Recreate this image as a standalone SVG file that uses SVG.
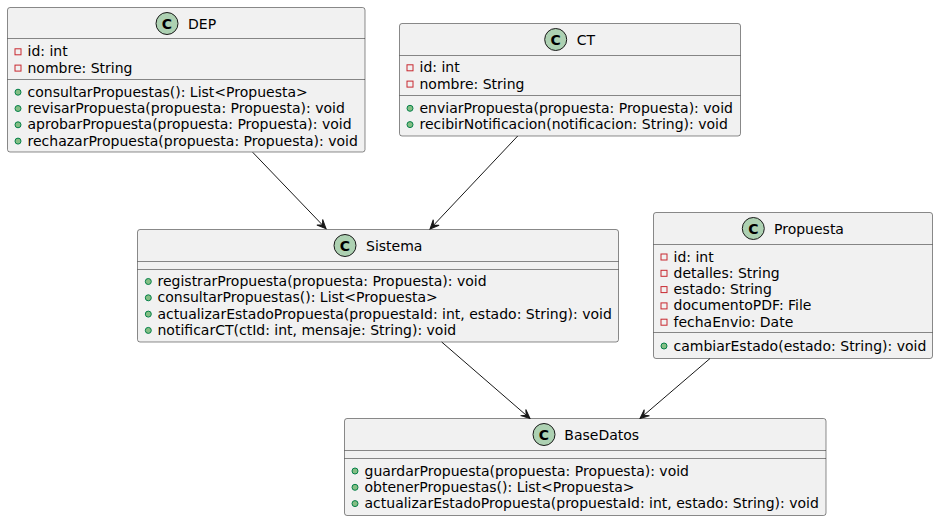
<svg xmlns="http://www.w3.org/2000/svg" width="938" height="521" viewBox="0 0 938 521">
<style>
.box{fill:#F1F1F1;stroke:#181818;stroke-width:0.5}
.sep{stroke:#181818;stroke-width:0.5}
.ci{fill:#ADD1B2;stroke:#181818;stroke-width:1}
.cl{font-family:"DejaVu Sans",sans-serif;font-size:14px;font-weight:bold;fill:#000;text-anchor:middle}
.t{font-family:"DejaVu Sans",sans-serif;font-size:14px;fill:#000}
.pv{fill:none;stroke:#C82930;stroke-width:1}
.pb{fill:#84BE84;stroke:#038048;stroke-width:1}
.edge{stroke:#181818;stroke-width:1;fill:none}
</style>
<defs>
<marker id="arr" viewBox="-10 -5 11 10" refX="0" refY="0" markerWidth="11" markerHeight="10" markerUnits="userSpaceOnUse" orient="auto">
<path d="M0,0 L-9,-4 L-5,0 L-9,4 Z" fill="#181818" stroke="#181818" stroke-width="1"/>
</marker>
</defs>

<g id="DEP">
<rect class="box" x="7.5" y="7.5" width="357.5" height="144.5" rx="2.5"/>
<circle class="ci" cx="167" cy="23.5" r="11"/>
<text class="cl" x="167" y="28.5">C</text>
<text class="t" x="188" y="28.5">DEP</text>
<line class="sep" x1="7.5" y1="38.5" x2="365" y2="38.5"/>
<rect class="pv" x="15" y="48.8" width="6" height="6"/>
<text class="t" x="27.5" y="56.3">id: int</text>
<rect class="pv" x="15" y="65.1" width="6" height="6"/>
<text class="t" x="27.5" y="72.6">nombre: String</text>
<line class="sep" x1="7.5" y1="79.5" x2="365" y2="79.5"/>
<circle class="pb" cx="18" cy="92.2" r="3"/>
<text class="t" x="27.5" y="96.7">consultarPropuestas(): List&lt;Propuesta&gt;</text>
<circle class="pb" cx="18" cy="108.5" r="3"/>
<text class="t" x="27.5" y="113">revisarPropuesta(propuesta: Propuesta): void</text>
<circle class="pb" cx="18" cy="124.8" r="3"/>
<text class="t" x="27.5" y="129.3">aprobarPropuesta(propuesta: Propuesta): void</text>
<circle class="pb" cx="18" cy="141.1" r="3"/>
<text class="t" x="27.5" y="145.6">rechazarPropuesta(propuesta: Propuesta): void</text>
</g>

<g id="CT">
<rect class="box" x="399.5" y="23.5" width="341" height="112.5" rx="2.5"/>
<circle class="ci" cx="555.7" cy="39.5" r="11"/>
<text class="cl" x="555.7" y="44.5">C</text>
<text class="t" x="576.7" y="44.5">CT</text>
<line class="sep" x1="399.5" y1="55.5" x2="740.5" y2="55.5"/>
<rect class="pv" x="407" y="64.8" width="6" height="6"/>
<text class="t" x="419.5" y="72.3">id: int</text>
<rect class="pv" x="407" y="81.1" width="6" height="6"/>
<text class="t" x="419.5" y="88.6">nombre: String</text>
<line class="sep" x1="399.5" y1="95.5" x2="740.5" y2="95.5"/>
<circle class="pb" cx="410" cy="108.3" r="3"/>
<text class="t" x="419.5" y="112.8">enviarPropuesta(propuesta: Propuesta): void</text>
<circle class="pb" cx="410" cy="124.6" r="3"/>
<text class="t" x="419.5" y="129.1">recibirNotificacion(notificacion: String): void</text>
</g>

<g id="Sistema">
<rect class="box" x="137.5" y="229.5" width="481" height="112.5" rx="2.5"/>
<circle class="ci" cx="345" cy="245.5" r="11"/>
<text class="cl" x="345" y="250.5">C</text>
<text class="t" x="366" y="250.5">Sistema</text>
<line class="sep" x1="137.5" y1="261.5" x2="618.5" y2="261.5"/>
<line class="sep" x1="137.5" y1="269.5" x2="618.5" y2="269.5"/>
<circle class="pb" cx="148.3" cy="281.5" r="3"/>
<text class="t" x="157.5" y="286">registrarPropuesta(propuesta: Propuesta): void</text>
<circle class="pb" cx="148.3" cy="297.8" r="3"/>
<text class="t" x="157.5" y="302.3">consultarPropuestas(): List&lt;Propuesta&gt;</text>
<circle class="pb" cx="148.3" cy="314.1" r="3"/>
<text class="t" x="157.5" y="318.6">actualizarEstadoPropuesta(propuestaId: int, estado: String): void</text>
<circle class="pb" cx="148.3" cy="330.4" r="3"/>
<text class="t" x="157.5" y="334.9">notificarCT(ctId: int, mensaje: String): void</text>
</g>

<g id="Propuesta">
<rect class="box" x="653.5" y="212.5" width="279" height="146" rx="2.5"/>
<circle class="ci" cx="753.3" cy="228.5" r="11"/>
<text class="cl" x="753.3" y="233.5">C</text>
<text class="t" x="774" y="233.5">Propuesta</text>
<line class="sep" x1="653.5" y1="244.5" x2="932.5" y2="244.5"/>
<rect class="pv" x="661" y="254" width="6" height="6"/>
<text class="t" x="673.5" y="261.5">id: int</text>
<rect class="pv" x="661" y="270.3" width="6" height="6"/>
<text class="t" x="673.5" y="277.8">detalles: String</text>
<rect class="pv" x="661" y="286.6" width="6" height="6"/>
<text class="t" x="673.5" y="294.1">estado: String</text>
<rect class="pv" x="661" y="302.9" width="6" height="6"/>
<text class="t" x="673.5" y="310.4">documentoPDF: File</text>
<rect class="pv" x="661" y="319.2" width="6" height="6"/>
<text class="t" x="673.5" y="326.7">fechaEnvio: Date</text>
<line class="sep" x1="653.5" y1="332.5" x2="932.5" y2="332.5"/>
<circle class="pb" cx="664" cy="346" r="3"/>
<text class="t" x="673.5" y="350.5">cambiarEstado(estado: String): void</text>
</g>

<g id="BaseDatos">
<rect class="box" x="344.5" y="418.5" width="481.5" height="97" rx="2.5"/>
<circle class="ci" cx="544" cy="434.5" r="11"/>
<text class="cl" x="544" y="439.5">C</text>
<text class="t" x="564.3" y="439.5">BaseDatos</text>
<line class="sep" x1="344.5" y1="450.5" x2="826" y2="450.5"/>
<line class="sep" x1="344.5" y1="458.5" x2="826" y2="458.5"/>
<circle class="pb" cx="355" cy="471" r="3"/>
<text class="t" x="364.5" y="475.5">guardarPropuesta(propuesta: Propuesta): void</text>
<circle class="pb" cx="355" cy="487.3" r="3"/>
<text class="t" x="364.5" y="491.8">obtenerPropuestas(): List&lt;Propuesta&gt;</text>
<circle class="pb" cx="355" cy="503.6" r="3"/>
<text class="t" x="364.5" y="508.1">actualizarEstadoPropuesta(propuestaId: int, estado: String): void</text>
</g>

<g id="connectors">
<line class="edge" x1="252.7" y1="152.3" x2="326" y2="228.7" marker-end="url(#arr)"/>
<line class="edge" x1="517.7" y1="136" x2="430" y2="229" marker-end="url(#arr)"/>
<line class="edge" x1="441.7" y1="342" x2="530" y2="418.5" marker-end="url(#arr)"/>
<line class="edge" x1="710" y1="358.5" x2="640" y2="418.5" marker-end="url(#arr)"/>
</g>
</svg>
